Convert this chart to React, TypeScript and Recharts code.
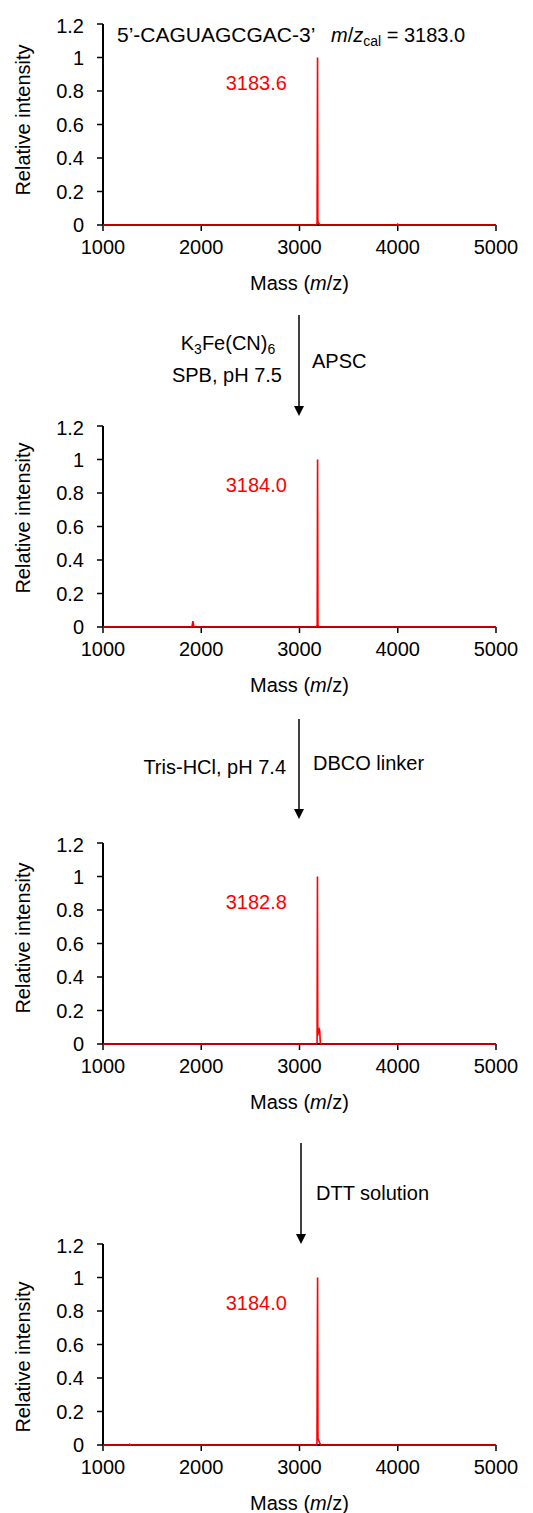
import { LineChart, Line, XAxis, YAxis, ReferenceDot, Label } from "recharts";

const massTicks = [1000, 2000, 3000, 4000, 5000];
const intensityTicks = [0, 0.2, 0.4, 0.6, 0.8, 1, 1.2];

// starting RNA
const mass1 = [1000, 3170, 3179, 3183.6, 3187, 3196, 3210, 3990, 4000, 4010, 5000];
const int1 = [0, 0, 0.01, 1, 0.02, 0.01, 0, 0, 0.005, 0, 0];

// after K3Fe(CN)6 / APSC
const mass2 = [1000, 1905, 1915, 1925, 3170, 3180, 3184, 3188, 3200, 5000];
const int2 = [0, 0, 0.035, 0, 0, 0.01, 1, 0.01, 0, 0];

// after DBCO linker
const mass3 = [1000, 3170, 3179, 3182.8, 3186, 3195, 3200, 3206, 3212, 5000];
const int3 = [0, 0, 0.01, 1, 0.05, 0.085, 0.09, 0.08, 0, 0];

// after DTT
const mass4 = [1000, 1265, 1272, 1280, 3170, 3178, 3184, 3188, 3200, 3215, 5000];
const int4 = [0, 0, 0.005, 0, 0, 0.01, 1, 0.04, 0.02, 0, 0];

const peakLabels = ["3183.6", "3184.0", "3182.8", "3184.0"];

const FONT = '"Liberation Sans", Arial, Helvetica, sans-serif';
const RED = "#ff0000";

const toRows = (m: number[], v: number[]) => m.map((x, i) => ({ mass: x, intensity: v[i] }));

const panels = [
  { top: 24, data: toRows(mass1, int1), peak: peakLabels[0], yMid: 96 },
  { top: 426, data: toRows(mass2, int2), peak: peakLabels[1], yMid: 92 },
  { top: 843, data: toRows(mass3, int3), peak: peakLabels[2], yMid: 95 },
  { top: 1244, data: toRows(mass4, int4), peak: peakLabels[3], yMid: 113 },
];

const Spectrum = ({ top, data, peak, yMid }: { top: number; data: { mass: number; intensity: number }[]; peak: string; yMid: number }) => (
  <div style={{ position: "absolute", left: 0, top: top - 10 }}>
    <LineChart width={533} height={291} data={data} margin={{ top: 10, right: 37, bottom: 10, left: 43 }}>
      <XAxis
        type="number"
        dataKey="mass"
        domain={[1000, 5000]}
        ticks={massTicks}
        height={70}
        tickSize={6}
        tickMargin={9}
        axisLine={{ stroke: "#000", strokeWidth: 2 }}
        tickLine={{ stroke: "#000", strokeWidth: 1.5 }}
        tick={{ fill: "#000", fontSize: 20 }}
        label={
          <Label
            content={() => (
              <text x={299.5} y={269} textAnchor="middle" dominantBaseline="central" fontSize={20} fill="#000">
                Mass (<tspan fontStyle="italic">m</tspan>/z)
              </text>
            )}
          />
        }
      />
      <YAxis
        type="number"
        domain={[0, 1.2]}
        ticks={intensityTicks}
        width={60}
        tickSize={6}
        tickMargin={13}
        axisLine={{ stroke: "#000", strokeWidth: 2 }}
        tickLine={{ stroke: "#000", strokeWidth: 1.5 }}
        tick={{ fill: "#000", fontSize: 20 }}
        label={
          <Label
            content={() => (
              <text
                x={23}
                y={10 + yMid}
                transform={`rotate(-90 23 ${10 + yMid})`}
                textAnchor="middle"
                dominantBaseline="central"
                fontSize={20}
                fill="#000"
              >
                Relative intensity
              </text>
            )}
          />
        }
      />
      <Line
        type="linear"
        dataKey="intensity"
        stroke={RED}
        strokeWidth={1.6}
        dot={false}
        isAnimationActive={false}
        zIndex={800}
      />
      <ReferenceDot
        x={2560}
        y={0.85}
        r={0}
        stroke="none"
        fill="none"
        label={{ value: peak, position: "center", fill: RED, fontSize: 20 }}
      />
    </LineChart>
  </div>
);

const Arrow = ({ x, y1, y2 }: { x: number; y1: number; y2: number }) => (
  <g>
    <line x1={x} y1={y1} x2={x} y2={y2 - 8} stroke="#000" strokeWidth={1.5} />
    <polygon points={`${x - 5},${y2 - 10} ${x + 5},${y2 - 10} ${x},${y2}`} fill="#000" />
  </g>
);

const note = (extra: React.CSSProperties): React.CSSProperties => ({
  position: "absolute",
  fontSize: 20,
  lineHeight: "24px",
  whiteSpace: "nowrap",
  color: "#000",
  transform: "translateY(-50%)",
  ...extra,
});

const subStyle: React.CSSProperties = { fontSize: 14, verticalAlign: "-4px", lineHeight: 0 };

export default function App() {
  return (
    <div style={{ position: "absolute", left: 0, top: 0, width: 533, height: 1513, background: "#fff", fontFamily: FONT }}>
      {panels.map((p, i) => (
        <Spectrum key={i} top={p.top} data={p.data} peak={p.peak} yMid={p.yMid} />
      ))}

      <svg width={533} height={1513} style={{ position: "absolute", left: 0, top: 0, pointerEvents: "none" }}>
        <Arrow x={299} y1={315} y2={416} />
        <Arrow x={299} y1={719} y2={819} />
        <Arrow x={301} y1={1143} y2={1244} />
      </svg>

      <div style={note({ left: 117, top: 35, fontSize: 21 })}>5’-CAGUAGCGAC-3’</div>
      <div style={note({ left: 331, top: 35 })}>
        <i>m</i>/<i>z</i>
        <span style={subStyle}>cal</span> = 3183.0
      </div>

      <div style={note({ left: 130, width: 196, textAlign: "center", top: 343 })}>
        K<span style={subStyle}>3</span>Fe(CN)<span style={subStyle}>6</span>
      </div>
      <div style={note({ right: 533 - 282, top: 375 })}>SPB, pH 7.5</div>
      <div style={note({ left: 312, top: 361 })}>APSC</div>

      <div style={note({ right: 533 - 286, top: 767 })}>Tris-HCl, pH 7.4</div>
      <div style={note({ left: 313, top: 763 })}>DBCO linker</div>

      <div style={note({ left: 316, top: 1193 })}>DTT solution</div>
    </div>
  );
}
